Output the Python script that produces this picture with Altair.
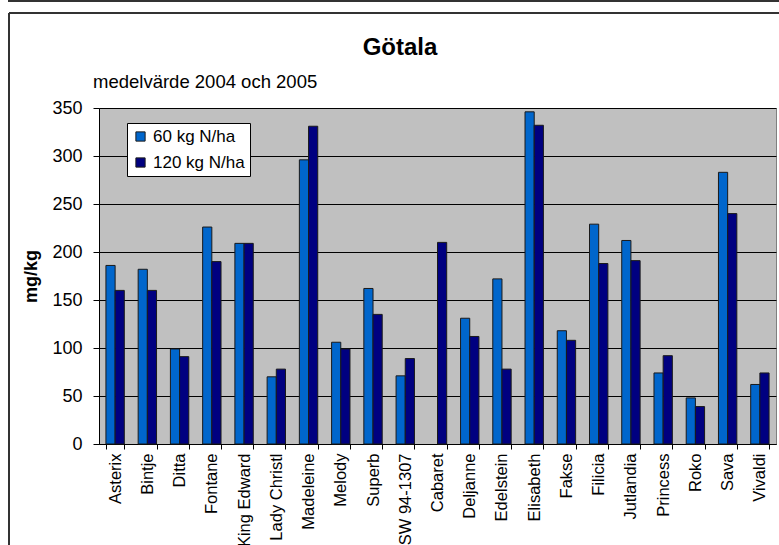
import altair as alt
import pandas as pd

# Potato varieties, Götala trial, mean of 2004 and 2005 (mg/kg)
varieties = [
    "Asterix", "Bintje", "Ditta", "Fontane", "King Edward", "Lady Christl",
    "Madeleine", "Melody", "Superb", "SW 94-1307", "Cabaret", "Deljanne",
    "Edelstein", "Elisabeth", "Fakse", "Filicia", "Jutlandia", "Princess",
    "Roko", "Sava", "Vivaldi",
]
n60 = [186, 182, 99, 226, 209, 70, 296, 106, 162, 71, None, 131,
       172, 346, 118, 229, 212, 74, 48, 283, 62]
n120 = [160, 160, 91, 190, 209, 78, 331, 99, 135, 89, 210, 112,
        78, 332, 108, 188, 191, 92, 39, 240, 74]
series = ["60 kg N/ha", "120 kg N/ha"]
series_colors = ["#0066CC", "#000080"]
y_ticks = [0, 50, 100, 150, 200, 250, 300, 350]

title_text = "Götala"
subtitle_text = "medelvärde 2004 och 2005"
y_title = "mg/kg"

FONT = "Liberation Sans"

rows = []
for name, a, b in zip(varieties, n60, n120):
    rows.append({"sort": name, "dose": series[0], "value": a})
    rows.append({"sort": name, "dose": series[1], "value": b})
df = pd.DataFrame(rows)

bars = alt.Chart(df).mark_bar(stroke="#1a1a1a", strokeWidth=1).encode(
    x=alt.X(
        "sort:N",
        sort=varieties,
        title=None,
        scale=alt.Scale(paddingInner=0.43, paddingOuter=0.215),
        axis=alt.Axis(
            labelAngle=-90, labelAlign="right", labelBaseline="middle",
            labelFontSize=16.5, labelFont=FONT, labelColor="black",
            labelPadding=4, labelLimit=300,
            tickBand="extent", tickSize=5, tickColor="black",
            domainColor="black", grid=False,
        ),
    ),
    xOffset=alt.XOffset("dose:N", sort=series, scale=alt.Scale(paddingInner=0, paddingOuter=0)),
    y=alt.Y(
        "value:Q",
        title=y_title,
        scale=alt.Scale(domain=[0, 350], nice=False),
        axis=alt.Axis(
            values=y_ticks, labelFontSize=18, labelFont=FONT, labelColor="black",
            labelPadding=11, tickSize=6, tickColor="black", domainColor="black",
            grid=True, gridColor="black", gridWidth=1,
            titleFont=FONT, titleFontSize=18, titleFontWeight="bold",
            titleColor="black", titleX=-68, titleY=168, titleAngle=-90,
            titleAlign="center", titleBaseline="middle",
        ),
    ),
    color=alt.Color(
        "dose:N",
        sort=series,
        scale=alt.Scale(domain=series, range=series_colors),
        legend=alt.Legend(
            title=None, orient="none", legendX=28, legendY=15,
            symbolType="square", symbolSize=85, symbolStrokeColor="#1a1a1a",
            symbolStrokeWidth=1, symbolOffset=0,
            labelFont=FONT, labelFontSize=17, labelColor="black", labelOffset=4,
            rowPadding=8, padding=5,
            strokeColor="black", fillColor="white",
        ),
    ),
)

one = pd.DataFrame({"k": [0]})

title = alt.Chart(one).mark_text(
    font=FONT, fontSize=24, fontWeight="bold", color="black",
    align="center", baseline="alphabetic",
).encode(x=alt.value(301), y=alt.value(-53), text=alt.value(title_text))

subtitle = alt.Chart(one).mark_text(
    font=FONT, fontSize=18.5, color="black", align="left", baseline="alphabetic",
).encode(x=alt.value(-6), y=alt.value(-20), text=alt.value(subtitle_text))

# chart border: outer frame edges and the edge of the frame above
frame_left = alt.Chart(one).mark_rule(color="#333333", strokeWidth=2).encode(
    x=alt.value(-90), y=alt.value(-95), y2=alt.value(450)
)
frame_top = alt.Chart(one).mark_rule(color="#333333", strokeWidth=2).encode(
    x=alt.value(-90), x2=alt.value(700), y=alt.value(-95)
)
frame_above = alt.Chart(one).mark_rule(color="#333333", strokeWidth=2).encode(
    x=alt.value(-91), x2=alt.value(700), y=alt.value(-107)
)

chart = alt.layer(bars, title, subtitle, frame_left, frame_top, frame_above).properties(
    width=677,
    height=336,
    autosize=alt.AutoSizeParams(type="none"),
    padding={"left": 99, "top": 108, "right": 3, "bottom": 101},
    background="white",
).configure_view(
    fill="#C0C0C0", stroke="#808080", strokeWidth=1
)

chart.save("out.html", embed_options={"renderer": "svg", "actions": False})
